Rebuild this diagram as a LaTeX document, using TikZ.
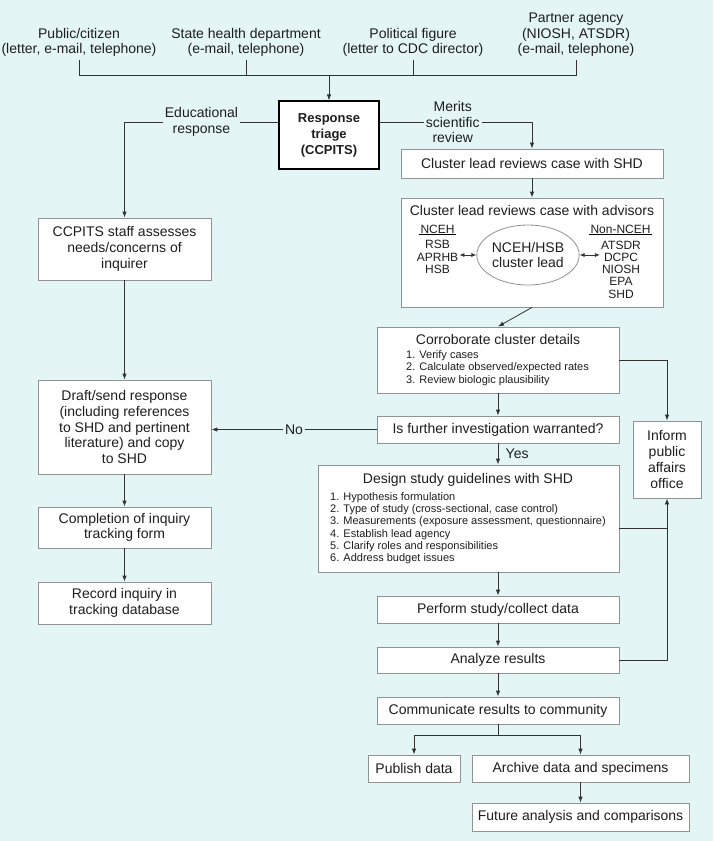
\documentclass[tikz,border=0pt]{standalone}
\usepackage{fontspec}
\setmainfont{Liberation Sans}
\usetikzlibrary{arrows.meta, shapes.geometric}
\definecolor{clBack}{HTML}{E4F5F6}
\definecolor{clEdge}{HTML}{8E9394}
\definecolor{clLine}{HTML}{333333}
\definecolor{clText}{HTML}{1E1E1E}
\newcommand{\mainsz}{\fontsize{14}{15.7}\selectfont}
\newcommand{\listsz}{\fontsize{11}{12.3}\selectfont}
\newcommand{\orgsz}{\fontsize{12}{12.3}\selectfont}

\begin{document}
\begin{tikzpicture}[x=1pt, y=-1pt,
  font=\mainsz, text=clText,
  bx/.style={draw=clEdge, fill=white, line width=0.8pt, align=center, inner sep=2pt},
  lcol/.style={bx, minimum width=173pt},
  rcol/.style={bx, minimum width=242pt},
  src/.style={align=center, anchor=south, inner xsep=2pt, inner ysep=3pt},
  lbl/.style={fill=clBack, inner sep=2pt, align=center},
  lst/.style={anchor=west, align=left, font=\listsz, inner sep=0pt},
  hd/.style={font=\orgsz, inner sep=1pt},
  sm/.style={font=\orgsz, align=center, inner sep=1pt},
  ar/.style={-{Latex[length=6pt,width=4.5pt]}, draw=clLine, line width=0.8pt},
  dar/.style={{Latex[length=5pt,width=4pt]}-{Latex[length=5pt,width=4pt]}, draw=clLine, line width=0.8pt},
  ln/.style={draw=clLine, line width=0.8pt},
]
\fill[clBack] (0,0) rectangle (713,841);
\useasboundingbox (0,0) rectangle (713,841);

% who asks
\node[src] (pub) at (79,60) {Public/citizen\\(letter, e-mail, telephone)};
\node[src] (shdept) at (246,60) {State health department\\(e-mail, telephone)};
\node[src] (pol) at (413,60) {Political figure\\(letter to CDC director)};
\node[src] (partner) at (576,60) {Partner agency\\(NIOSH, ATSDR)\\(e-mail, telephone)};
\coordinate (bus) at (329,75);

\node[bx, draw=black, line width=1.1pt, font=\fontsize{13}{16}\selectfont\bfseries,
      minimum width=100pt, minimum height=68pt] (triage) at (329,135) {Response\\triage\\(CCPITS)};

% educational branch
\node[lcol, minimum height=62pt] (staff) at (124.5,249) {CCPITS staff assesses\\needs/concerns of\\inquirer};
\node[lcol, minimum height=94pt] (draft) at (124.5,427) {Draft/send response\\(including references\\to SHD and pertinent\\literature) and copy\\to SHD};
\node[lcol, minimum height=41pt] (track) at (124.5,527.5) {Completion of inquiry\\tracking form};
\node[lcol, minimum height=42pt] (record) at (124.5,603) {Record inquiry in\\tracking database};

% scientific branch
\node[bx, minimum width=262pt, minimum height=29pt] (revshd) at (532,163.5) {Cluster lead reviews case with SHD};
\node[bx, minimum width=262pt, minimum height=109pt] (advisors) at (532,252.5) {};
\node (advtitle) at (532,210) {Cluster lead reviews case with advisors};
\node[draw=clEdge, line width=0.8pt, ellipse, minimum width=90pt, minimum height=60pt,
      inner sep=0pt, align=center] (lead) at (528,255) {NCEH/HSB\\cluster lead};
\node[hd, minimum width=35pt] (ncehhd) at (437.5,229) {NCEH};
\node[sm] (ncehlist) at (437.5,257) {RSB\\APRHB\\HSB};
\node[hd, minimum width=57pt] (nonhd) at (620.5,229) {Non-NCEH};
\node[sm] (nonlist) at (621,269.5) {ATSDR\\DCPC\\NIOSH\\EPA\\SHD};
\draw[line width=0.6pt] (ncehhd.south west) -- (ncehhd.south east);
\draw[line width=0.6pt] (nonhd.south west) -- (nonhd.south east);

\node[rcol, minimum height=66pt] (corr) at (498,360) {};
\node (corrtitle) at (498,339) {Corroborate cluster details};
\node[lst] (corrlist) at (406,368) {1. Verify cases\\2. Calculate observed/expected rates\\3. Review biologic plausibility};
\node[rcol, minimum height=27pt] (further) at (498,429.5) {Is further investigation warranted?};
\node[bx, minimum width=301pt, minimum height=107pt] (design) at (468.5,518.5) {};
\node (destitle) at (468,480) {Design study guidelines with SHD};
\node[lst] (deslist) at (330,528) {1. Hypothesis formulation\\2. Type of study (cross-sectional, case control)\\3. Measurements (exposure assessment, questionnaire)\\4. Establish lead agency\\5. Clarify roles and responsibilities\\6. Address budget issues};
\node[rcol, minimum height=27pt] (perform) at (498,609.5) {Perform study/collect data};
\node[rcol, minimum height=26pt] (analyze) at (498,660) {Analyze results};
\node[rcol, minimum height=27pt] (comm) at (498,710.5) {Communicate results to community};
\node[bx, minimum width=92pt, minimum height=27pt] (publish) at (414,768.5) {Publish data};
\node[bx, minimum width=217pt, minimum height=27pt] (archive) at (580.5,768.5) {Archive data and specimens};
\node[bx, minimum width=217pt, minimum height=28pt] (future) at (580.5,817) {Future analysis and comparisons};
\node[bx, minimum width=68pt, minimum height=77pt] (inform) at (667,459.5) {Inform\\public\\affairs\\office};
\coordinate (split) at (498,735);

% connectors
\draw[ln] (pub.south) -- (pub.south |- bus) -- (partner.south |- bus) -- (partner.south);
\foreach \s in {shdept, pol}
  \draw[ln] (\s.south) -- (\s.south |- bus);
\draw[ar] (bus) -- (triage.north);
\draw[ar] ([yshift=13pt]triage.west) -| node[lbl, pos=0.25] {Educational\\response} (staff.north);
\draw[ar] ([yshift=13pt]triage.east) -| node[lbl, pos=0.24] {Merits\\scientific\\review} (revshd.north);
\foreach \a/\b in {staff/draft, draft/track, track/record, revshd/advisors, corr/further, perform/analyze, analyze/comm, archive/future}
  \draw[ar] (\a) -- (\b);
\draw[ar] (advisors.south) -- (corr.north);
\draw[dar] (ncehlist.east |- lead.west) -- (lead.west);
\draw[dar] (lead.east) -- (lead.east -| nonlist.west);
\draw[ar] (further.west) -- node[lbl] {No} (further.west -| draft.east);
\draw[ar] (further.south) -- node[right, xshift=4pt] {Yes} (further.south |- design.north);
\draw[ar] (design.south -| perform.north) -- (perform.north);
\draw[ln] (comm.south) -- (split);
\draw[ar] (split) -| (publish.north);
\draw[ar] (split) -| (archive.north);
\draw[ar] (corr.east) -| (inform.north);
\draw[ar] (analyze.east) -| (inform.south);
\draw[ln] ([yshift=-9.5pt]design.east) -- ([yshift=-9.5pt]design.east -| inform.south);
\end{tikzpicture}
\end{document}
